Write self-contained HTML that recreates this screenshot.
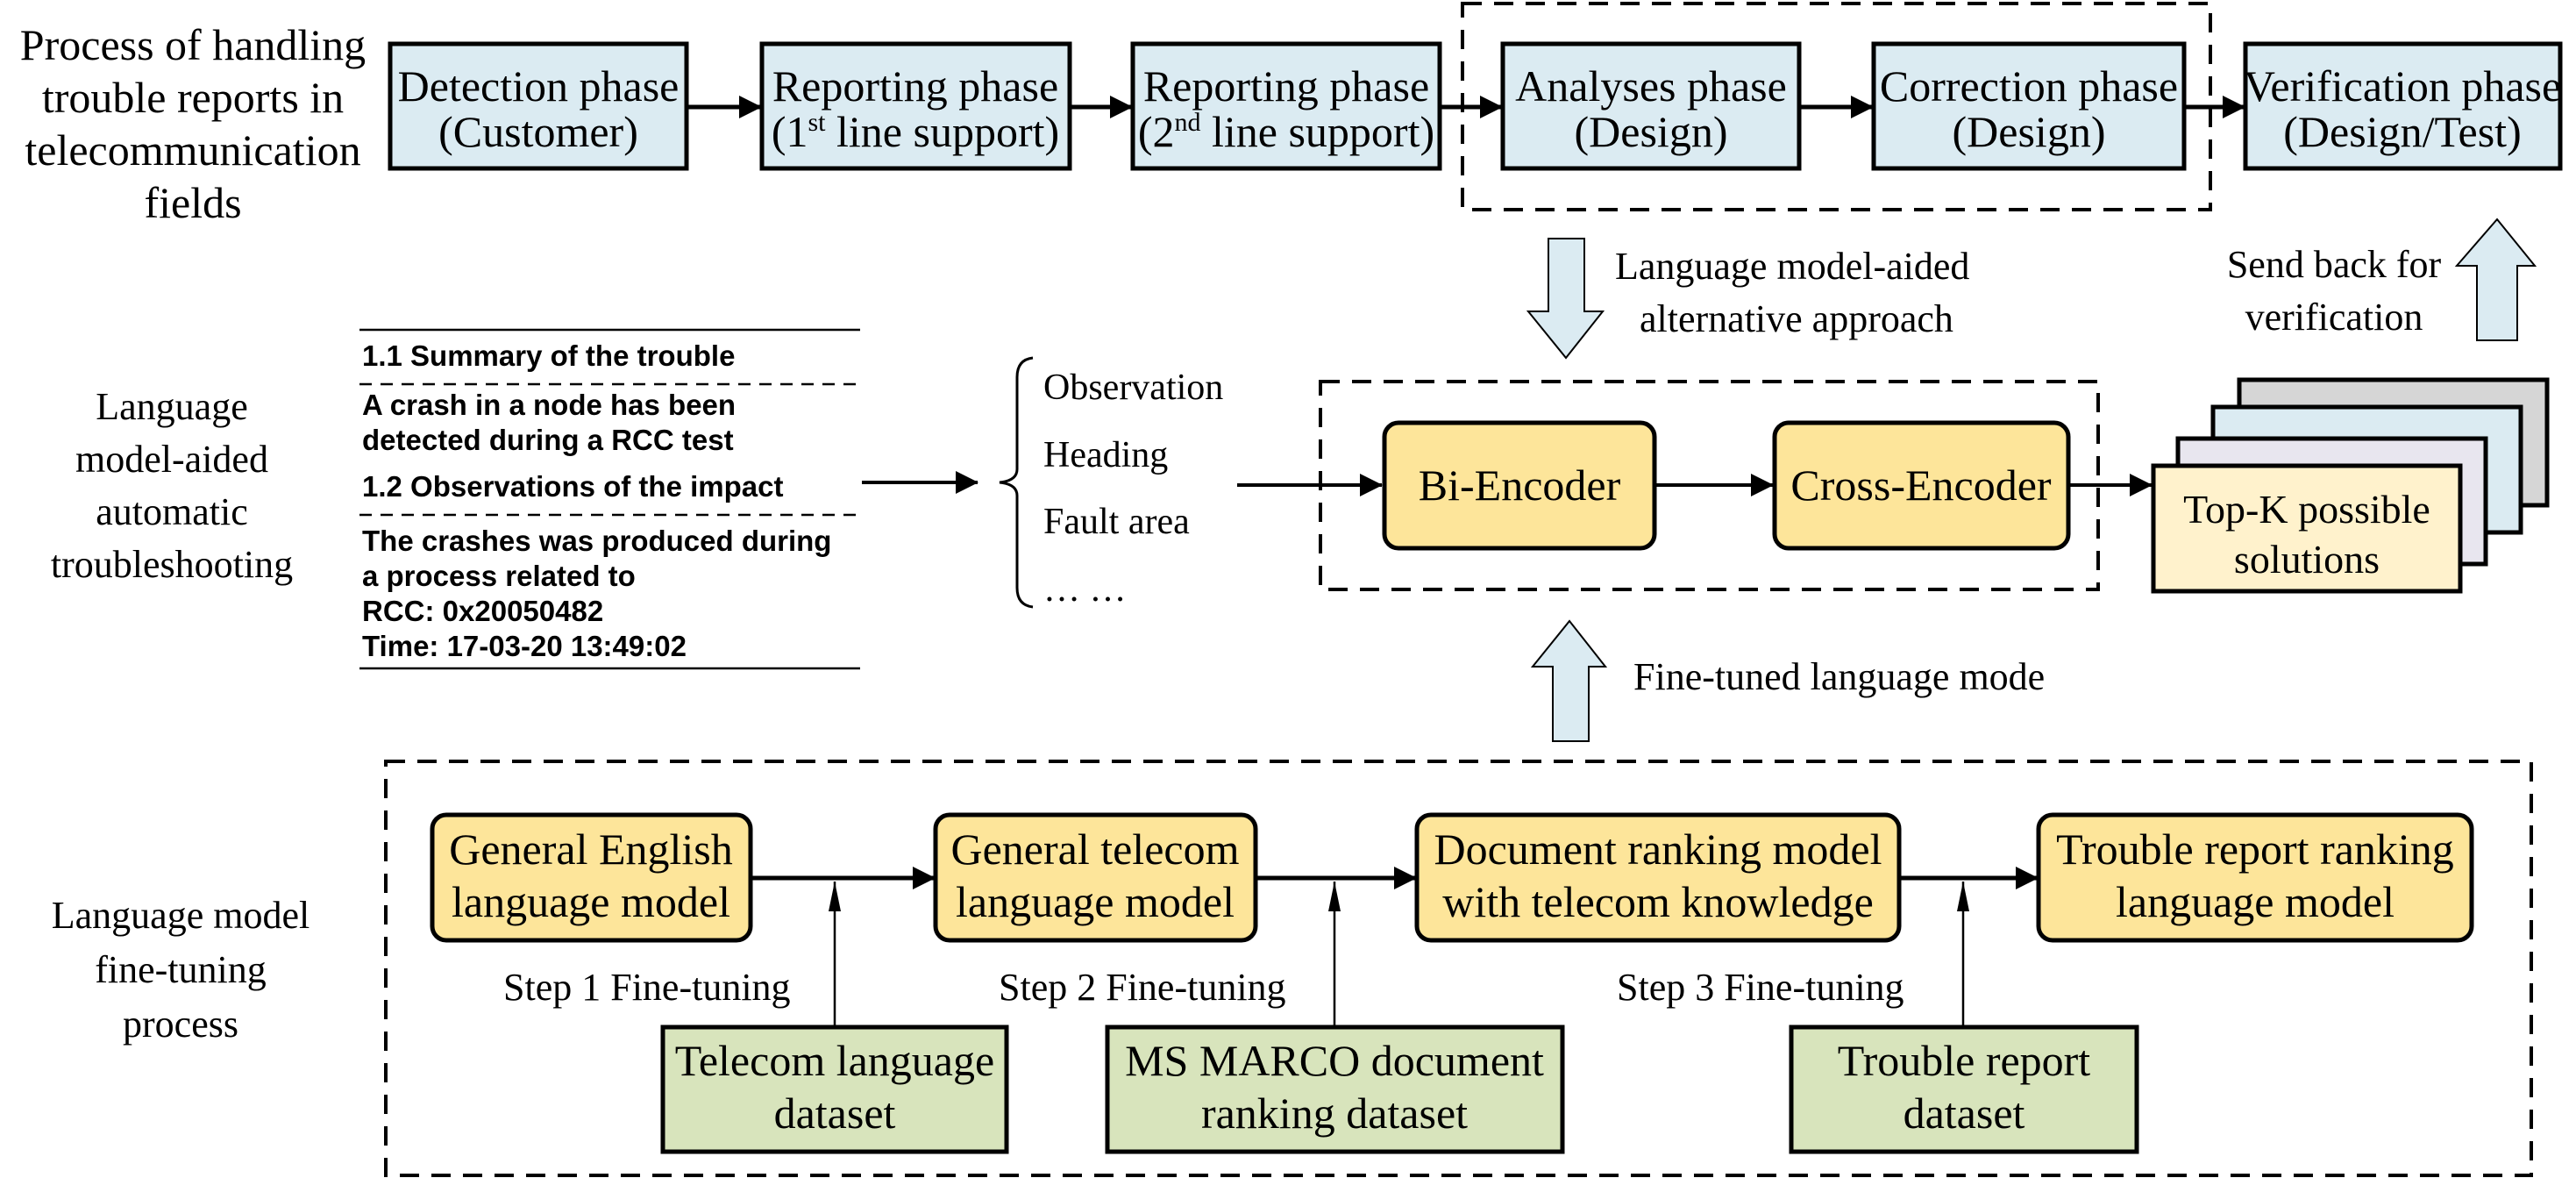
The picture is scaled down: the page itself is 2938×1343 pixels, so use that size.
<!DOCTYPE html>
<html><head><meta charset="utf-8"><style>
html,body{margin:0;padding:0;background:#fff;}
svg{display:block;}
.s{font-family:"Liberation Serif",serif;font-size:50px;fill:#000;}
.b{font-family:"Liberation Sans",sans-serif;font-weight:bold;font-size:33px;fill:#000;}
</style></head><body>
<svg width="2938" height="1343" viewBox="0 0 2938 1343" xmlns="http://www.w3.org/2000/svg">
<defs>
<marker id="a" markerWidth="26" markerHeight="26" refX="25" refY="13" orient="auto" markerUnits="userSpaceOnUse" viewBox="0 0 26 26"><path d="M0,0 L26,13 L0,26z" fill="#000"/></marker>
<marker id="t" markerWidth="14" markerHeight="34" refX="7" refY="0" orient="0" markerUnits="userSpaceOnUse" viewBox="0 0 14 34"><path d="M7,0 L14,34 L0,34z" fill="#000"/></marker>
</defs>
<g class="s" text-anchor="middle">
<text x="220" y="68">Process of handling</text>
<text x="220" y="128">trouble reports in</text>
<text x="220" y="188">telecommunication</text>
<text x="220" y="248">fields</text>
</g>
<g fill="#dbebf2" stroke="#000" stroke-width="5">
<rect x="445" y="50" width="338" height="142"/>
<rect x="869" y="50" width="351" height="142"/>
<rect x="1292" y="50" width="350" height="142"/>
<rect x="1714" y="50" width="338" height="142"/>
<rect x="2137" y="50" width="354" height="142"/>
<rect x="2561" y="50" width="359" height="142"/>
</g>
<g class="s" text-anchor="middle">
<text x="614" y="115">Detection phase</text><text x="614" y="167">(Customer)</text>
<text x="1044" y="115">Reporting phase</text><text x="1044" y="167">(1<tspan font-size="30" dy="-18">st</tspan><tspan dy="18"> line support)</tspan></text>
<text x="1467" y="115">Reporting phase</text><text x="1467" y="167">(2<tspan font-size="30" dy="-18">nd</tspan><tspan dy="18"> line support)</tspan></text>
<text x="1883" y="115">Analyses phase</text><text x="1883" y="167">(Design)</text>
<text x="2314" y="115">Correction phase</text><text x="2314" y="167">(Design)</text>
<text x="2740" y="115">Verification phase</text><text x="2740" y="167">(Design/Test)</text>
</g>
<g stroke="#000" stroke-width="5" fill="none">
<line x1="783" y1="122" x2="868" y2="122" marker-end="url(#a)"/>
<line x1="1220" y1="122" x2="1291" y2="122" marker-end="url(#a)"/>
<line x1="1642" y1="122" x2="1713" y2="122" marker-end="url(#a)"/>
<line x1="2052" y1="122" x2="2136" y2="122" marker-end="url(#a)"/>
<line x1="2491" y1="122" x2="2560" y2="122" marker-end="url(#a)"/>
</g>
<g stroke="#000" stroke-width="4" fill="none" stroke-dasharray="22,14">
<rect x="1668" y="4" width="853" height="235"/>
<rect x="1506" y="435" width="887" height="237"/>
<rect x="440" y="868" width="2447" height="472"/>
</g>
<g fill="#dbebf2" stroke="#000" stroke-width="2">
<path d="M1766,272 H1807 V355 H1828 L1786,408 L1743,355 H1766 Z"/>
<path d="M2848,250 L2891,303 H2871 V388 H2825 V303 H2802 Z"/>
<path d="M1790,708 L1831,760 H1812 V845 H1771 V760 H1748 Z"/>
</g>
<g class="s">
<text x="1842" y="318" style="font-size:44px">Language model-aided</text>
<text x="1870" y="378" style="font-size:44px">alternative approach</text>
<text x="2662" y="316" style="font-size:44px" text-anchor="middle">Send back for</text>
<text x="2662" y="376" style="font-size:44px" text-anchor="middle">verification</text>
<text x="1863" y="786" style="font-size:44px">Fine-tuned language mode</text>
</g>
<g class="s" text-anchor="middle">
<text x="196" y="478" style="font-size:44px">Language</text>
<text x="196" y="538" style="font-size:44px">model-aided</text>
<text x="196" y="598" style="font-size:44px">automatic</text>
<text x="196" y="658" style="font-size:44px">troubleshooting</text>
</g>
<g stroke="#000" stroke-width="2.5" fill="none">
<line x1="410" y1="376" x2="981" y2="376"/>
<line x1="410" y1="762" x2="981" y2="762"/>
<line x1="410" y1="438" x2="976" y2="438" stroke-dasharray="14,10"/>
<line x1="410" y1="587" x2="976" y2="587" stroke-dasharray="14,10"/>
</g>
<g class="b">
<text x="413" y="417">1.1 Summary of the trouble</text>
<text x="413" y="473">A crash in a node has been</text>
<text x="413" y="513">detected during a RCC test</text>
<text x="413" y="566">1.2 Observations of the impact</text>
<text x="413" y="628">The crashes was produced during</text>
<text x="413" y="668">a process related to</text>
<text x="413" y="708">RCC: 0x20050482</text>
<text x="413" y="748">Time: 17-03-20 13:49:02</text>
</g>
<g stroke="#000" stroke-width="4" fill="none">
<line x1="983" y1="550" x2="1115" y2="550" marker-end="url(#a)"/>
<path d="M1178,408 Q1160,410 1160,430 V535 Q1160,548 1140,550 Q1160,552 1160,565 V670 Q1160,690 1178,692" stroke-width="3"/>
<line x1="1411" y1="553" x2="1576" y2="553" marker-end="url(#a)"/>
<line x1="1887" y1="553" x2="2022" y2="553" marker-end="url(#a)"/>
<line x1="2359" y1="553" x2="2454" y2="553" marker-end="url(#a)"/>
</g>
<g class="s">
<text x="1190" y="455" style="font-size:42px">Observation</text>
<text x="1190" y="532" style="font-size:42px">Heading</text>
<text x="1190" y="608" style="font-size:42px">Fault area</text>
<text x="1190" y="685" style="font-size:42px">… …</text>
</g>
<g fill="#fde59a" stroke="#000" stroke-width="5">
<rect x="1579" y="482" width="308" height="143" rx="16"/>
<rect x="2024" y="482" width="335" height="143" rx="16"/>
</g>
<g class="s" text-anchor="middle">
<text x="1733" y="570">Bi-Encoder</text>
<text x="2191" y="570">Cross-Encoder</text>
</g>
<g stroke="#000" stroke-width="5">
<rect x="2554" y="433" width="351" height="143" fill="#d6d6d6"/>
<rect x="2524" y="464" width="351" height="143" fill="#dbebf2"/>
<rect x="2484" y="500" width="351" height="143" fill="#e8e6ef"/>
<rect x="2456" y="531" width="350" height="143" fill="#fff2cc"/>
</g>
<g class="s" text-anchor="middle">
<text x="2631" y="596" style="font-size:46px">Top-K possible</text>
<text x="2631" y="653" style="font-size:46px">solutions</text>
</g>
<g class="s" text-anchor="middle">
<text x="206" y="1058" style="font-size:44px">Language model</text>
<text x="206" y="1120" style="font-size:44px">fine-tuning</text>
<text x="206" y="1182" style="font-size:44px">process</text>
</g>
<g fill="#fde59a" stroke="#000" stroke-width="5">
<rect x="493" y="929" width="363" height="143" rx="16"/>
<rect x="1067" y="929" width="365" height="143" rx="16"/>
<rect x="1616" y="929" width="550" height="143" rx="16"/>
<rect x="2325" y="929" width="494" height="143" rx="16"/>
</g>
<g class="s" text-anchor="middle">
<text x="674" y="985">General English</text><text x="674" y="1045">language model</text>
<text x="1249" y="985">General telecom</text><text x="1249" y="1045">language model</text>
<text x="1891" y="985">Document ranking model</text><text x="1891" y="1045">with telecom knowledge</text>
<text x="2572" y="985">Trouble report ranking</text><text x="2572" y="1045">language model</text>
</g>
<g stroke="#000" stroke-width="5" fill="none">
<line x1="856" y1="1001" x2="1066" y2="1001" marker-end="url(#a)"/>
<line x1="1432" y1="1001" x2="1615" y2="1001" marker-end="url(#a)"/>
<line x1="2166" y1="1001" x2="2324" y2="1001" marker-end="url(#a)"/>
</g>
<g stroke="#000" stroke-width="2.5">
<line x1="952" y1="1171" x2="952" y2="1005" marker-end="url(#t)"/>
<line x1="1522" y1="1171" x2="1522" y2="1005" marker-end="url(#t)"/>
<line x1="2239" y1="1171" x2="2239" y2="1005" marker-end="url(#t)"/>
</g>
<g class="s">
<text x="574" y="1140" style="font-size:44px">Step 1 Fine-tuning</text>
<text x="1139" y="1140" style="font-size:44px">Step 2 Fine-tuning</text>
<text x="1844" y="1140" style="font-size:44px">Step 3 Fine-tuning</text>
</g>
<g fill="#d8e4bc" stroke="#000" stroke-width="5">
<rect x="756" y="1171" width="392" height="142"/>
<rect x="1263" y="1171" width="519" height="142"/>
<rect x="2043" y="1171" width="394" height="142"/>
</g>
<g class="s" text-anchor="middle">
<text x="952" y="1226">Telecom language</text><text x="952" y="1286">dataset</text>
<text x="1522" y="1226">MS MARCO document</text><text x="1522" y="1286">ranking dataset</text>
<text x="2240" y="1226">Trouble report</text><text x="2240" y="1286">dataset</text>
</g>
</svg>
</body></html>
